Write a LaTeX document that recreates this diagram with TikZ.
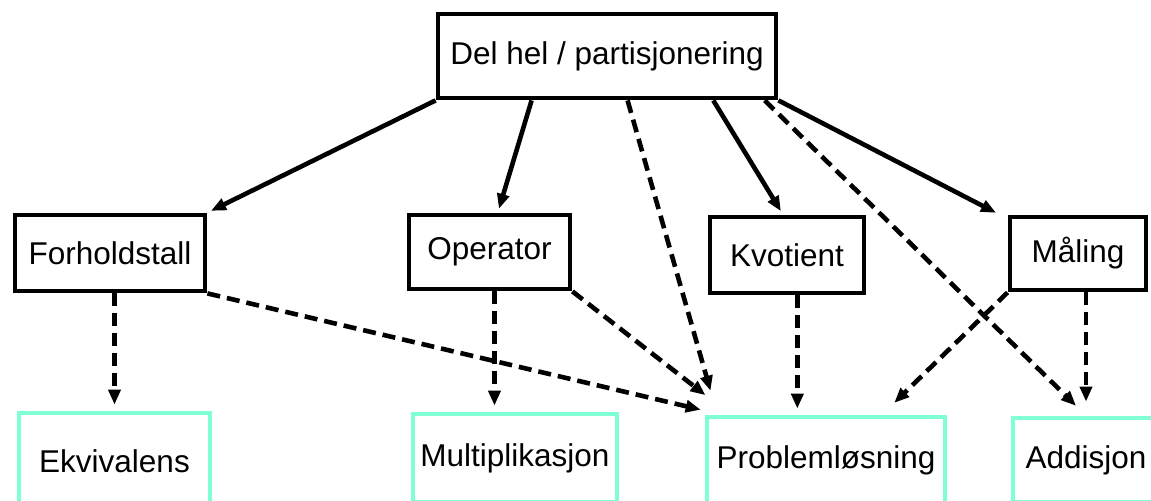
\documentclass[tikz,border=0pt]{standalone}
\usepackage{fontspec}
\setmainfont{Liberation Sans}
\usetikzlibrary{arrows.meta,calc}
\definecolor{aqualine}{RGB}{127,255,212}
\tikzset{
  catbox/.style={draw=black,line width=2.4pt,inner sep=0pt,font=\fontsize{15.75pt}{19pt}\selectfont},
  goalbox/.style={catbox,draw=aqualine},
  link/.style={line width=2.3pt,shorten >=2pt,-{Triangle[length=7.5pt,width=6pt]}},
  dlink/.style={link,dash pattern=on 6.5pt off 3.5pt},
}
\begin{document}
\begin{tikzpicture}[x=0.5pt,y=-0.5pt]
        \useasboundingbox (0,0) rectangle (1151,500);
        \clip (0,0) rectangle (1151,500);
        % boxes
        \node[catbox,minimum width=169pt,minimum height=42pt] (top) at (607,56) {Del hel / partisjonering};
        \node[catbox,minimum width=95pt,minimum height=38pt] (forh) at (110,253) {Forholdstall};
        \node[catbox,minimum width=80.5pt,minimum height=37pt] (op) at (489.5,252) {Operator};
        \node[catbox,minimum width=77pt,minimum height=38pt] (kv) at (787,255) {Kvotient};
        \node[catbox,minimum width=68pt,minimum height=36.5pt] (mal) at (1078,253.5) {Måling};
        \node[goalbox,minimum width=95.5pt,minimum height=48pt] (ekv) at (114.5,461) {Ekvivalens};
        \node[goalbox,minimum width=102pt,minimum height=44pt] (mult) at (515,458) {Multiplikasjon};
        \node[goalbox,minimum width=119pt,minimum height=43pt] (prob) at (826,460) {Problemløsning};
        \node[goalbox,minimum width=73pt,minimum height=42pt] (add) at (1086,460) {Addisjon};
        \coordinate (opm) at ($(op.south west)!.53!(op.south east)$);
        \coordinate (kvp) at ($(kv.south west)!.565!(kv.south east)$);

        % from the top
        \draw[link] (top.south west) -- (forh.north east);
        \draw[link] ($(top.south west)!.28!(top.south east)$) -- ($(op.north west)!.55!(op.north east)$);
        \draw[dlink] ($(top.south west)!.56!(top.south east)$) -- ($(prob.north west)+(7,-20)$);
        \draw[link] ($(top.south west)!.81!(top.south east)$) -- ($(kv.north)+(-4,0)$);
        \draw[dlink,shorten >=7pt] ($(top.south west)!.96!(top.south east)$) -- (add.north);
        \draw[link] (top.south east) -- ($(mal.north west)+(-8,0)$);

        % second row down
        \draw[dlink,shorten >=3pt] (ekv.north |- forh.south) -- (ekv.north);
        \draw[dlink] (forh.south east) -- ($(prob.north west)+(0,-4)$);
        \draw[dlink,shorten >=3pt] (opm) -- (opm |- mult.north);
        \draw[dlink] (op.south east) -- ($(prob.north west)+(4,-17)$);
        \draw[dlink,shorten >=3pt] (kvp) -- (kvp |- prob.north);
        \draw[dlink] (mal.south west) -- ($(prob.north east)+(-56,-9)$);
        \draw[dlink,shorten >=7pt] (add.north |- mal.south) -- (add.north);
\end{tikzpicture}
\end{document}
